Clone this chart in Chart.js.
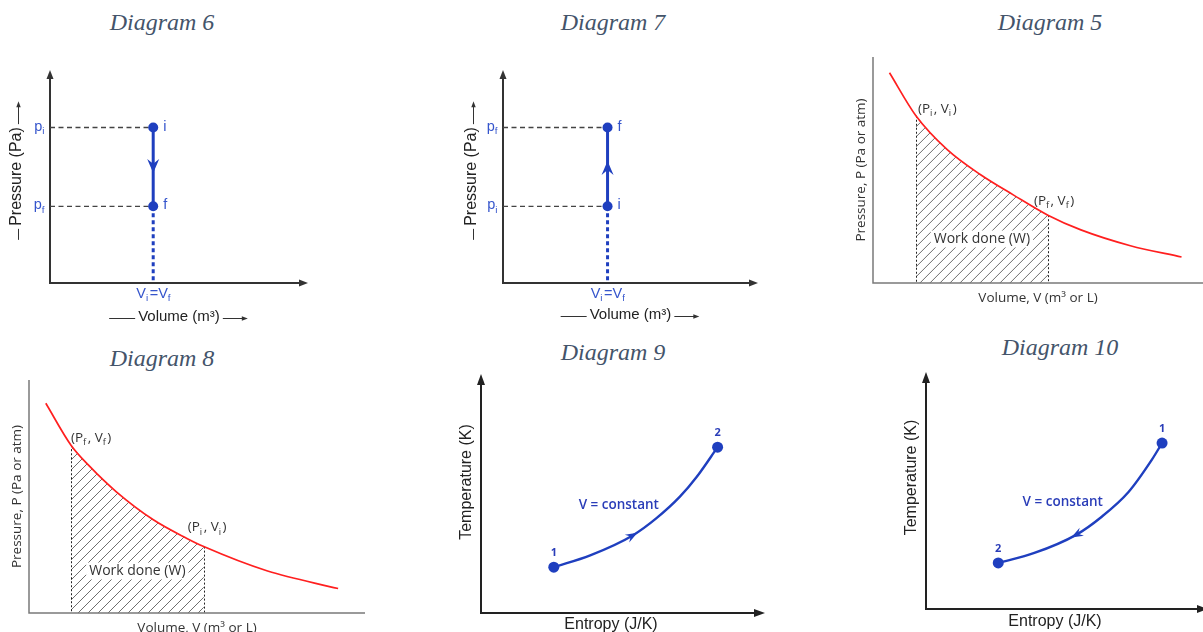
<!DOCTYPE html>
<html>
<head>
<meta charset="utf-8">
<title>Thermodynamic process diagrams</title>
<script src="https://cdn.jsdelivr.net/npm/chart.js@4.4.1/dist/chart.umd.min.js"></script>
<style>
  html, body { margin: 0; padding: 0; background: #fff; }
  body { position: relative; width: 1203px; height: 632px; overflow: hidden; }
  canvas { position: absolute; }
  .caption { position: absolute; transform: translate(-50%, -50%); white-space: nowrap;
    font: italic 24px "Liberation Serif", "Times New Roman", serif; color: #44546a; }
</style>
</head>
<body>
<div class="caption" style="left:162px;top:22px">Diagram 6</div>
<div class="caption" style="left:613px;top:22px">Diagram 7</div>
<div class="caption" style="left:1050px;top:22px">Diagram 5</div>
<div class="caption" style="left:162px;top:358px">Diagram 8</div>
<div class="caption" style="left:613px;top:352px">Diagram 9</div>
<div class="caption" style="left:1060px;top:347px">Diagram 10</div>
<canvas id="d6" width="330" height="285" style="left:0;top:50px"></canvas>
<canvas id="d7" width="330" height="285" style="left:440px;top:50px"></canvas>
<canvas id="d5" width="363" height="280" style="left:840px;top:40px"></canvas>
<canvas id="d8" width="380" height="290" style="left:0;top:360px"></canvas>
<canvas id="d9" width="330" height="315" style="left:440px;top:335px"></canvas>
<canvas id="d10" width="323" height="320" style="left:880px;top:330px"></canvas>
<script>
const BLUE = "#1f3fbf"
const TEXT_BLUE = "#3555cc"
const RED = "#ff1f1f"
const SANS = '"Liberation Sans", Arial, sans-serif'
const OPEN = '"Open Sans", sans-serif'

// Diagram 6 - constant volume, pressure drops i -> f
const d6States = ["i", "f"]
const d6Volume = [4, 4]
const d6Pressure = [7.3, 3.6]

// Diagram 7 - constant volume, pressure rises i -> f
const d7States = ["i", "f"]
const d7Volume = [4.1, 4.1]
const d7Pressure = [3.6, 7.3]

// Diagram 5 - isotherm, expansion
const d5Volume = [0.5, 1.3, 2.25, 3.25, 4.25, 5.3, 6.3, 7.8, 9.35]
const d5Pressure = [9.3, 7.4, 5.9, 4.8, 3.9, 3.0, 2.35, 1.65, 1.15]
const d5Marks = [1, 5]
const d5Tags = ["(P_i, V_i)", "(P_f, V_f)"]

// Diagram 8 - isotherm, compression
const d8Volume = [0.5, 1.25, 1.8, 2.6, 3.7, 4.7, 5.2, 7.1, 9.2]
const d8Pressure = [9.0, 7.2, 6.3, 5.2, 4.0, 3.2, 2.85, 1.8, 1.05]
const d8Marks = [1, 6]
const d8Tags = ["(P_f, V_f)", "(P_i, V_i)"]

// Diagram 9 - T-S, heating at constant volume (1 -> 2)
const d9States = ["1", "2"]
const d9Entropy = [2.8, 4.2, 5.85, 6.75, 7.65, 8.3, 9.1]
const d9Temp = [1.75, 2.2, 2.97, 3.62, 4.44, 5.2, 6.33]

// Diagram 10 - T-S, cooling at constant volume (1 -> 2)
const d10States = ["1", "2"]
const d10Entropy = [9.15, 8.75, 7.85, 6.8, 5.8, 4.2, 2.8]
const d10Temp = [6.31, 5.67, 4.45, 3.5, 2.81, 2.13, 1.75]

const processNote = "V = constant"

function unit(a, b) {
	const dx = b.x - a.x, dy = b.y - a.y
	const len = Math.hypot(dx, dy) || 1
	return { x: dx / len, y: dy / len }
}

// filled head, tip at (x, y) pointing along (ux, uy); notch < 1 gives a barbed head
function arrowHead(ctx, x, y, ux, uy, len, wid, notch) {
	const px = -uy, py = ux
	ctx.beginPath()
	ctx.moveTo(x, y)
	ctx.lineTo(x - ux * len + px * wid / 2, y - uy * len + py * wid / 2)
	ctx.lineTo(x - ux * len * notch, y - uy * len * notch)
	ctx.lineTo(x - ux * len - px * wid / 2, y - uy * len - py * wid / 2)
	ctx.closePath()
	ctx.fill()
}

// text where "_x" is drawn as a subscript
function drawRich(ctx, str, x, y, f, align, bg) {
	const parts = []
	for (let k = 0; k < str.length; k++) {
		if (str[k] === "_") parts.push({ t: str[++k], sub: true })
		else if (parts.length && !parts[parts.length - 1].sub) parts[parts.length - 1].t += str[k]
		else parts.push({ t: str[k], sub: false })
	}
	const font = sub => `${f.weight || "normal"} ${sub ? f.size * 0.68 : f.size}px ${f.family}`
	let w = 0
	for (const p of parts) {
		ctx.font = font(p.sub)
		p.w = ctx.measureText(p.t).width + (p.sub ? 1.5 : 0)
		w += p.w
	}
	let cx = align === "center" ? x - w / 2 : align === "right" ? x - w : x
	if (bg) {
		ctx.fillStyle = bg
		ctx.fillRect(cx - 3, y - f.size * 0.6, w + 6, f.size * 1.2)
	}
	ctx.fillStyle = f.color
	ctx.textAlign = "left"
	ctx.textBaseline = "middle"
	for (const p of parts) {
		ctx.font = font(p.sub)
		ctx.fillText(p.t, cx, y + (p.sub ? f.size * 0.32 : 0))
		cx += p.w
	}
}

function drawHatch(chart, h) {
	const ctx = chart.ctx
	const meta = chart.getDatasetMeta(h.dataset)
	const line = meta.dataset, pts = meta.data
	const { top, bottom } = chart.chartArea
	const a = pts[h.from], b = pts[h.to]
	line.updateControlPoints(chart.chartArea, "x")
	ctx.save()
	ctx.beginPath()
	ctx.rect(a.x, top - 40, b.x - a.x, bottom - top + 40)
	ctx.clip()
	ctx.beginPath()
	line.path(ctx)
	ctx.lineTo(pts[pts.length - 1].x, bottom)
	ctx.lineTo(pts[0].x, bottom)
	ctx.closePath()
	ctx.clip()
	ctx.strokeStyle = "#4a4a4a"
	ctx.lineWidth = 0.8
	ctx.beginPath()
	const span = bottom - top + 40
	for (let x = a.x - span; x < b.x; x += h.gap) {
		ctx.moveTo(x, bottom)
		ctx.lineTo(x + span, bottom - span)
	}
	ctx.stroke()
	ctx.restore()
}

// the "—— Volume (m³) ——>" style strokes around the axis titles
function titleDeco(chart, cfg) {
	const ctx = chart.ctx, ca = chart.chartArea, d = cfg.titleDeco
	ctx.strokeStyle = d.color
	ctx.fillStyle = d.color
	ctx.lineWidth = 1
	const xt = cfg.xt
	ctx.font = `${xt.size}px ${xt.family}`
	let half = ctx.measureText(xt.text).width / 2 + 3
	let cx = (ca.left + ca.right) / 2
	let cy = chart.scales.x.bottom - xt.pad[1] - xt.size * 0.6 + 1.5
	ctx.beginPath()
	ctx.moveTo(cx - half - d.x[0], cy); ctx.lineTo(cx - half, cy)
	ctx.moveTo(cx + half, cy); ctx.lineTo(cx + half + d.x[1], cy)
	ctx.stroke()
	arrowHead(ctx, cx + half + d.x[1] + 5, cy, 1, 0, 6, 4.5, 1)
	const yt = cfg.yt
	ctx.font = `${yt.size}px ${yt.family}`
	half = ctx.measureText(yt.text).width / 2 + 3
	cx = chart.scales.y.left + yt.pad[0] + yt.size * 0.6 + 1.5
	cy = (ca.top + ca.bottom) / 2
	ctx.beginPath()
	ctx.moveTo(cx, cy + half + d.y[0]); ctx.lineTo(cx, cy + half)
	ctx.moveTo(cx, cy - half); ctx.lineTo(cx, cy - half - d.y[1])
	ctx.stroke()
	arrowHead(ctx, cx, cy - half - d.y[1] - 5, 0, -1, 6, 4.5, 1)
}

function decor(cfg) {
	return {
		id: "decor",
		beforeDatasetsDraw(chart) {
			const ctx = chart.ctx
			const { left, right, top, bottom } = chart.chartArea
			if (cfg.hatch) drawHatch(chart, cfg.hatch)
			if (cfg.drops) {
				const pts = chart.getDatasetMeta(0).data
				ctx.save()
				ctx.strokeStyle = "#222"
				ctx.lineWidth = 1
				ctx.setLineDash([2, 2])
				ctx.beginPath()
				for (const i of cfg.drops) {
					ctx.moveTo(Math.round(pts[i].x) + 0.5, pts[i].y)
					ctx.lineTo(Math.round(pts[i].x) + 0.5, bottom)
				}
				ctx.stroke()
				ctx.restore()
			}
			const a = cfg.axis
			const yEnd = top - a.top, xEnd = right + a.right
			const cut = a.head ? a.head[0] - 2 : 0
			ctx.save()
			ctx.strokeStyle = a.color
			ctx.fillStyle = a.color
			ctx.lineWidth = a.width
			ctx.beginPath()
			ctx.moveTo(left, yEnd + cut)
			ctx.lineTo(left, bottom)
			ctx.lineTo(xEnd - cut, bottom)
			ctx.stroke()
			if (a.head) {
				arrowHead(ctx, left, yEnd, 0, -1, a.head[0], a.head[1], 1)
				arrowHead(ctx, xEnd, bottom, 1, 0, a.head[0], a.head[1], 1)
			}
			ctx.restore()
		},
		afterDatasetsDraw(chart) {
			const ctx = chart.ctx
			const xs = chart.scales.x, ys = chart.scales.y
			ctx.save()
			if (cfg.arrow) {
				const pts = chart.getDatasetMeta(0).data
				const ar = cfg.arrow
				let p, u
				if (ar.index == null) {
					const a = pts[0], b = pts[pts.length - 1]
					p = { x: (a.x + b.x) / 2, y: (a.y + b.y) / 2 }
					u = unit(a, b)
				} else {
					p = pts[ar.index]
					u = unit(pts[ar.index - 1], pts[ar.index + 1])
				}
				ctx.fillStyle = BLUE
				arrowHead(ctx, p.x + u.x * ar.shift, p.y + u.y * ar.shift, u.x, u.y, ar.size[0], ar.size[1], 0.65)
			}
			for (const l of cfg.labels || []) {
				const f = Object.assign({}, cfg.font, l.font || {})
				drawRich(ctx, l.text, xs.getPixelForValue(l.x) + (l.dx || 0), ys.getPixelForValue(l.y) + (l.dy || 0), f, l.align || "left", l.bg)
			}
			if (cfg.titleDeco) titleDeco(chart, cfg)
			ctx.restore()
		}
	}
}

function scaleOpt(t) {
	return {
		type: "linear", min: 0, max: 10,
		grid: { display: false, drawTicks: false },
		ticks: { display: false },
		border: { display: false },
		title: {
			display: true, text: t.text, color: t.color,
			font: { family: t.family, size: t.size },
			padding: { top: t.pad[0], bottom: t.pad[1] }
		}
	}
}

function makeChart(id, datasets, pad, xt, yt, cfg) {
	cfg.xt = xt
	cfg.yt = yt
	return new Chart(document.getElementById(id), {
		type: "line",
		data: { datasets: datasets },
		options: {
			responsive: false, animation: false, events: [],
			layout: { padding: pad },
			scales: { x: scaleOpt(xt), y: scaleOpt(yt) },
			plugins: { legend: { display: false }, tooltip: { enabled: false } }
		},
		plugins: [decor(cfg)]
	})
}

// P-V diagram of a constant-volume step (diagrams 6 and 7)
function isochoric(id, states, vol, pres, pad, xPad, yPad) {
	const pts = states.map((s, k) => ({ x: vol[k], y: pres[k] }))
	const low = pts.reduce((a, b) => (b.y < a.y ? b : a))
	const guides = pts.map(p => ({
		data: [{ x: 0, y: p.y }, p], borderColor: "#444", borderWidth: 1.3,
		borderDash: [5, 3.5], pointRadius: 0, clip: false
	}))
	const labels = [
		...states.map((s, k) => ({ text: s, x: vol[k], y: pres[k], dx: 10, dy: -1 })),
		...states.map((s, k) => ({ text: "p_" + s, x: 0, y: pres[k], dx: -4, dy: -1, align: "right" })),
		{ text: "V_i=V_f", x: vol[0], y: 0, dx: 1, dy: 11, align: "center" }
	]
	return makeChart(id, [
		{ data: pts, borderColor: BLUE, borderWidth: 3, pointRadius: 5, pointBackgroundColor: BLUE, pointBorderWidth: 0, clip: false },
		{ data: [low, { x: low.x, y: 0 }], borderColor: BLUE, borderWidth: 3, borderDash: [4, 3], pointRadius: 0, clip: false },
		...guides
	], pad,
	{ text: "Volume (m³)", family: SANS, size: 15, color: "#222", pad: xPad },
	{ text: "Pressure (Pa)", family: SANS, size: 16, color: "#222", pad: yPad },
	{
		axis: { color: "#333", width: 2, head: [9, 7], top: 0, right: 0 },
		titleDeco: { color: "#333", x: [26, 20], y: [11, 18] },
		arrow: { shift: 6, size: [14, 12] },
		font: { family: SANS, size: 14.5, color: TEXT_BLUE },
		labels: labels
	})
}

// P-V isotherm with the hatched work area (diagrams 5 and 8)
function isotherm(id, vol, pres, marks, tags, tagShift, workLift, pad, xPad, yPad) {
	const pts = vol.map((v, k) => ({ x: v, y: pres[k] }))
	const labels = marks.map((m, k) => ({
		text: tags[k], x: vol[m], y: pres[m], dx: tagShift[k][0], dy: tagShift[k][1]
	}))
	labels.push({
		text: "Work done (W)", x: (vol[marks[0]] + vol[marks[1]]) / 2, y: 0, dy: -workLift,
		align: "center", bg: "#fff", font: { size: 14 }
	})
	return makeChart(id, [
		{ data: pts, borderColor: RED, borderWidth: 1.7, pointRadius: 0, cubicInterpolationMode: "monotone", clip: false }
	], pad,
	{ text: "Volume, V (m³ or L)", family: OPEN, size: 13.5, color: "#333", pad: xPad },
	{ text: "Pressure, P (Pa or atm)", family: OPEN, size: 13.5, color: "#333", pad: yPad },
	{
		axis: { color: "#7a7a7a", width: 1.5, head: null, top: 0, right: 0 },
		hatch: { dataset: 0, from: marks[0], to: marks[1], gap: 10 },
		drops: marks,
		font: { family: OPEN, size: 13.5, color: "#333" },
		labels: labels
	})
}

// T-S diagram of a constant-volume process (diagrams 9 and 10)
function tsProcess(id, ent, temp, states, note, arrowAt, pad, xPad, yPad, axisExt) {
	const pts = ent.map((s, k) => ({ x: s, y: temp[k] }))
	const last = pts.length - 1
	const labels = states.map((s, k) => ({
		text: s, x: ent[k ? last : 0], y: temp[k ? last : 0], dy: -14, align: "center",
		font: { size: 11, weight: "bold" }
	}))
	labels.push({ text: processNote, x: note[0], y: note[1], align: "center", font: { size: 13.5, weight: "600" } })
	return makeChart(id, [
		{
			data: pts, borderColor: BLUE, borderWidth: 2.4, cubicInterpolationMode: "monotone", clip: false,
			pointRadius: c => (c.dataIndex === 0 || c.dataIndex === last ? 5.5 : 0),
			pointBackgroundColor: BLUE, pointBorderWidth: 0
		}
	], pad,
	{ text: "Entropy (J/K)", family: SANS, size: 16, color: "#222", pad: xPad },
	{ text: "Temperature (K)", family: SANS, size: 16, color: "#222", pad: yPad },
	{
		axis: { color: "#222", width: 2, head: [11, 8], top: axisExt[0], right: axisExt[1] },
		arrow: { index: arrowAt, shift: 5, size: [12, 9] },
		font: { family: OPEN, size: 13, color: "#2a3db8" },
		labels: labels
	})
}

isochoric("d6", d6States, d6Volume, d6Pressure, { left: 0, right: 22, top: 20, bottom: 0 }, [25, 9], [7.4, 23.4])
isochoric("d7", d7States, d7Volume, d7Pressure, { left: 0, right: 12, top: 20, bottom: 0 }, [23, 11], [22.4, 21.4])
isotherm("d5", d5Volume, d5Pressure, d5Marks, d5Tags, [[2, -7], [-14, -14]], 44,
	{ left: 0, right: 0, top: 17, bottom: 0 }, [6.9, 13.9], [12.9, 3.9])
isotherm("d8", d8Volume, d8Pressure, d8Marks, d8Tags, [[0, -7], [-16, -19]], 42,
	{ left: 0, right: 15, top: 20, bottom: 0 }, [6.9, 13.9], [8.9, 3.9])
tsProcess("d9", d9Entropy, d9Temp, d9States, [5.3, 4.1], 2,
	{ left: 0, right: 29, top: 16, bottom: 0 }, [2.4, 15.4], [17.4, 4.4], [-23, 24])
tsProcess("d10", d10Entropy, d10Temp, d10States, [5.3, 4.07], 4,
	{ left: 0, right: 19, top: 16, bottom: 0 }, [3.4, 18.4], [22.1, 4.7], [-26, 24])
</script>
</body>
</html>
